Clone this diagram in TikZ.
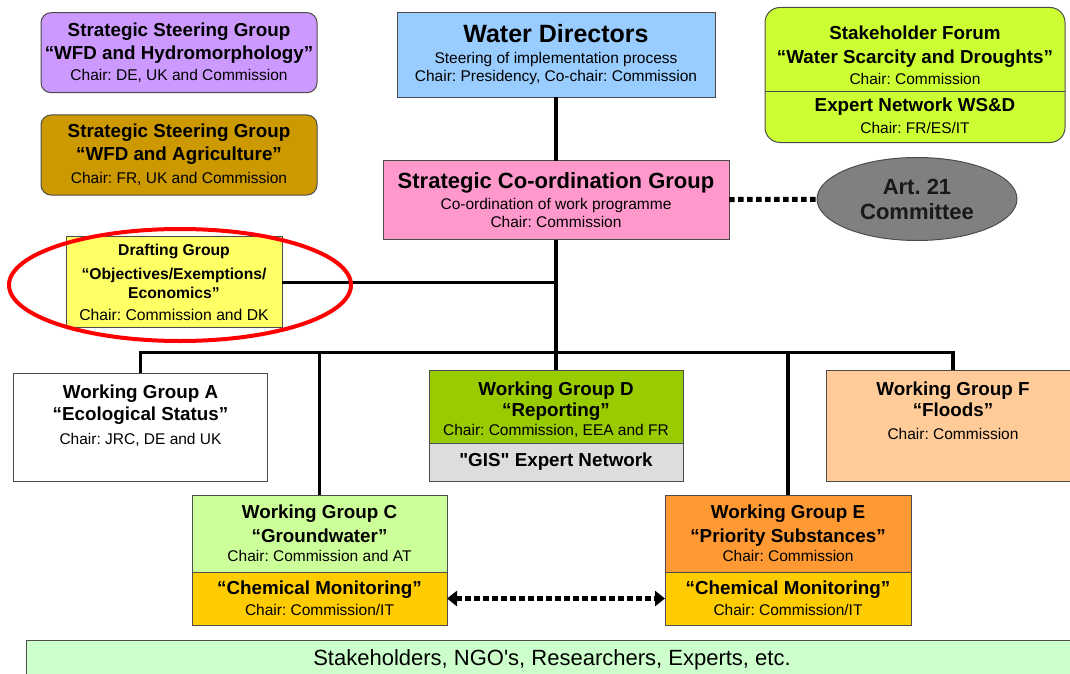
\documentclass[tikz,border=0pt]{standalone}
\usepackage{fontspec}
\setmainfont{Liberation Sans}
\usepackage{tikz}
\usetikzlibrary{arrows,arrows.meta,shapes,positioning}
\frenchspacing
\definecolor{lilac}{HTML}{CC99FF}
\definecolor{ochre}{HTML}{CC9900}
\definecolor{skyblue}{HTML}{99CCFF}
\definecolor{sfgreen}{HTML}{CCFF33}
\definecolor{rose}{HTML}{FF99CC}
\definecolor{artgrey}{HTML}{808080}
\definecolor{dgyellow}{HTML}{FFFF66}
\definecolor{leaf}{HTML}{99CC00}
\definecolor{gisgrey}{HTML}{DDDDDD}
\definecolor{peach}{HTML}{FFCC99}
\definecolor{mint}{HTML}{CCFF99}
\definecolor{amber}{HTML}{FFCC00}
\definecolor{wgorange}{HTML}{FF9933}
\definecolor{paleg}{HTML}{CCFFCC}
\newcommand{\grptitle}{\fontsize{18.8}{20}\selectfont\bfseries}
\newcommand{\chairfont}{\fontsize{15.5}{20}\selectfont}
\newcommand{\dgfont}{\fontsize{15.7}{20}\selectfont}
\tikzstyle{steer} = [rectangle, rounded corners=10pt, draw=black!70, line width=1pt, minimum width=276pt, minimum height=80pt, align=center, inner sep=0pt, outer sep=0pt, font=\chairfont]
\tikzstyle{group} = [rectangle, draw=black!70, line width=1pt, align=center, inner sep=0pt, outer sep=0pt, font=\chairfont]
\tikzstyle{link} = [line width=3.5pt]
\tikzstyle{dots} = [line width=5pt, dash pattern=on 5.5pt off 3.5pt]

\begin{document}
\begin{tikzpicture}[x=1pt,y=-1pt,>={Triangle[length=10pt,width=15pt]}]
\useasboundingbox (0,0) rectangle (1070,674);
\clip (0,0) rectangle (1070,674);

% steering groups and top level
\node (ssgHM) [steer, fill=lilac] at (179,52.7) {{\grptitle Strategic Steering Group}\\[2.3pt]{\grptitle “WFD and Hydromorphology”}\\[0.8pt]Chair: DE, UK and Commission};
\node (ssgAg) [steer, fill=ochre] at (179,155) {{\grptitle Strategic Steering Group}\\[2.3pt]{\grptitle “WFD and Agriculture”}\\[3.7pt]Chair: FR, UK and Commission};
\node (wd) [group, fill=skyblue, minimum width=318pt, minimum height=85pt] at (556,54.7) {{\fontsize{25}{20}\selectfont\bfseries Water Directors}\\[0.9pt]Steering of implementation process\\[-2pt]Chair: Presidency, Co-chair: Commission};
\node (sf) [steer, rounded corners=15pt, fill=sfgreen, minimum width=300pt, minimum height=135pt] at (915,75) {{\grptitle\rule{0pt}{23.5pt}Stakeholder Forum}\\[4pt]{\grptitle “Water Scarcity and Droughts”}\\[1pt]Chair: Commission\\[7.3pt]{\grptitle Expert Network WS\&D}\\[2pt]Chair: FR/ES/IT};
\draw [line width=1pt, draw=black!70] ([yshift=-84pt]sf.north west) -- ([yshift=-84pt]sf.north east);
\node (scg) [group, fill=rose, minimum width=346pt, minimum height=79pt] at (556,200) {{\fontsize{22}{20}\selectfont\bfseries Strategic Co-ordination Group}\\[1pt]Co-ordination of work programme\\[-2.3pt]Chair: Commission};
\node (art) [ellipse, fill=artgrey, draw=black!70, line width=1pt, minimum width=200pt, minimum height=83pt, inner sep=0pt, align=center, font=\fontsize{22}{20}\selectfont\bfseries, text=black!90] at (917,199) {Art. 21\\[5pt]Committee};
\node (dg) [group, fill=dgyellow, minimum width=216pt, minimum height=91pt, font=\dgfont] at (174,282.3) {{\bfseries Drafting Group}\\[3.7pt]{\bfseries “Objectives/Exemptions/}\\[-1pt]{\bfseries Economics”}\\[1.7pt]Chair: Commission and DK};

% working groups
\node (wgA) [group, fill=white, minimum width=254pt, minimum height=108pt] at (140.5,427.2) {{\grptitle Working Group A}\\[1.6pt]{\grptitle “Ecological Status”}\\[4.6pt]Chair: JRC, DE and UK\rule[-25pt]{0pt}{25pt}};
\node (wgD) [group, fill=leaf, minimum width=254pt, minimum height=73pt] at (556,406.5) {{\grptitle\rule{0pt}{19.9pt}Working Group D}\\[1.7pt]{\grptitle “Reporting”}\\[-1.1pt]Chair: Commission, EEA and FR};
\node (gis) [group, fill=gisgrey, minimum width=254pt, minimum height=38pt, font=\grptitle, below=0pt of wgD] {\textquotedbl GIS\textquotedbl{} Expert Network};
\node (wgF) [group, fill=peach, minimum width=254pt, minimum height=111pt] at (953,425.5) {{\grptitle Working Group F}\\[1.7pt]{\grptitle “Floods”}\\[3.2pt]Chair: Commission\rule[-29.6pt]{0pt}{29.6pt}};
\node (wgC) [group, fill=mint, minimum width=255pt, minimum height=77pt] at (319.5,533.5) {{\grptitle Working Group C}\\[3.4pt]{\grptitle “Groundwater”}\\[-0.8pt]Chair: Commission and AT};
\node (wgCchem) [group, fill=amber, minimum width=255pt, minimum height=53pt, below=0pt of wgC] {{\grptitle “Chemical Monitoring”}\\[0.6pt]Chair: Commission/IT};
\node (wgE) [group, fill=wgorange, minimum width=246pt, minimum height=77pt] at (788,533.5) {{\grptitle Working Group E}\\[3.4pt]{\grptitle “Priority Substances”}\\[-0.8pt]Chair: Commission};
\node (wgEchem) [group, fill=amber, minimum width=246pt, minimum height=53pt, below=0pt of wgE] {{\grptitle “Chemical Monitoring”}\\[0.6pt]Chair: Commission/IT};
\node (others) [group, fill=paleg, minimum width=1052pt, minimum height=40pt, font=\fontsize{22}{20}\selectfont] at (552,660) {Stakeholders, NGO\textquotesingle s, Researchers, Experts, etc.};

% connectors
\coordinate (bus) at (556,352.5);
\draw [link] (wd) -- (scg);
\draw [link] (scg) -- (wgD);
\draw [link] (dg.east) -- (dg.east -| scg.south);
\draw [link] (wgA.north) |- (bus) -| (wgF.north);
\draw [link] (bus) -| (wgC.north);
\draw [link] (bus) -| (wgE.north);
\draw [dots] (scg) -- (art);
\draw [dots, <->] (wgCchem) -- (wgEchem);

\node (highlight) [ellipse, draw=red, line width=4pt, minimum width=342pt, minimum height=112pt] at (180,285) {};
\end{tikzpicture}
\end{document}
